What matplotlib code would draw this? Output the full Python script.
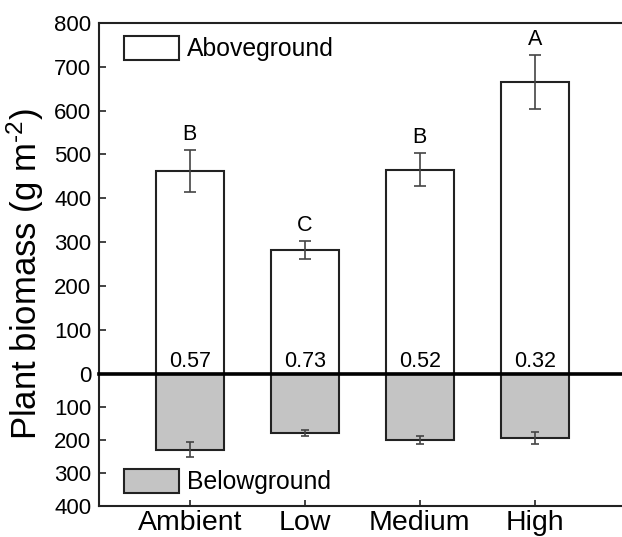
import matplotlib
matplotlib.use("Agg")
import matplotlib.pyplot as plt
import numpy as np

plt.rcParams['font.family'] = ['Liberation Sans', 'DejaVu Sans']
plt.rcParams['mathtext.fontset'] = 'custom'
plt.rcParams['mathtext.rm'] = 'Liberation Sans'
plt.rcParams['mathtext.it'] = 'Liberation Sans:italic'

groups = ["Ambient", "Low", "Medium", "High"]
above = [462, 282, 465, 665]
above_err = [48, 20, 38, 61]
below = [230, 179, 200, 195]
below_err = [23, 10, 12, 18]
letters = ["B", "C", "B", "A"]
ratios = ["0.57", "0.73", "0.52", "0.32"]

W, H = 622, 537
fig = plt.figure(figsize=(W / 100, H / 100), dpi=100)

left = 99 / W
width = (4.59 * 115) / W
y_zero = 374
y_top = 22.7
y_bot = 505.7
ax_bot = fig.add_axes([left, (H - y_bot) / H, width, (y_bot - y_zero) / H])
ax_top = fig.add_axes([left, (H - y_zero) / H, width, (y_zero - y_top) / H])
ax_top.patch.set_visible(False)

x = np.arange(len(groups))
bw = 0.59
edge = "#222222"

ax_top.bar(x, above, bw, color="white", edgecolor=edge, linewidth=1.5,
           label="Aboveground", zorder=2)
ax_top.errorbar(x, above, yerr=above_err, fmt="none", ecolor="#444444",
                elinewidth=1.2, capsize=4, capthick=1.2, zorder=3)
for xi, v, e, t in zip(x, above, above_err, letters):
    ax_top.text(xi, v + e + 12, t, ha="center", va="bottom", fontsize=15.5)
for xi, t in zip(x, ratios):
    ax_top.text(xi, 4, t, ha="center", va="bottom", fontsize=15.5)

ax_bot.bar(x, below, bw, color="#c4c4c4", edgecolor=edge, linewidth=1.5,
           label="Belowground", zorder=2)
ax_bot.errorbar(x, below, yerr=below_err, fmt="none", ecolor="#444444",
                elinewidth=1.2, capsize=3, capthick=1.2, zorder=3)

xlim = (-0.79, 3.80)
for ax in (ax_top, ax_bot):
    ax.set_xlim(xlim)
    ax.spines["right"].set_visible(False)
    for s in ax.spines.values():
        s.set_color("#222222")
        s.set_linewidth(1.5)
    ax.tick_params(axis="y", direction="in", length=5, width=1.2,
                   labelsize=16, colors="#222222", labelcolor="black", pad=5.5)

ax_top.set_ylim(0, 800)
ax_top.set_yticks(np.arange(0, 801, 100))
ax_top.spines["bottom"].set_linewidth(2.6)
ax_top.spines["bottom"].set_color("black")
ax_top.spines["bottom"].set_zorder(5)
ax_top.tick_params(axis="x", bottom=False, labelbottom=False)

ax_bot.set_ylim(400, 0)
ax_bot.set_yticks([100, 200, 300, 400])
ax_bot.spines["top"].set_visible(False)
ax_bot.set_xticks(x)
ax_bot.set_xticklabels(groups)
ax_bot.tick_params(axis="x", direction="in", length=4, width=1.2,
                   labelsize=20.5, pad=3, colors="#222222", labelcolor="black")

leg_kw = dict(frameon=False, fontsize=17.8, handlelength=2.2, handleheight=1.1,
              handletextpad=0.33, borderaxespad=0.3)
ax_top.legend(loc="upper left", bbox_to_anchor=(0.015, 1.012), **leg_kw)
ax_bot.legend(loc="lower left", bbox_to_anchor=(0.015, -0.045), **leg_kw)

fig.text(25 / W, 1 - 274 / H, "Plant biomass (g m$^{\\text{-2}}$)", rotation=90,
         ha="center", va="center", fontsize=25)

fig.savefig("out.png", dpi=100)
